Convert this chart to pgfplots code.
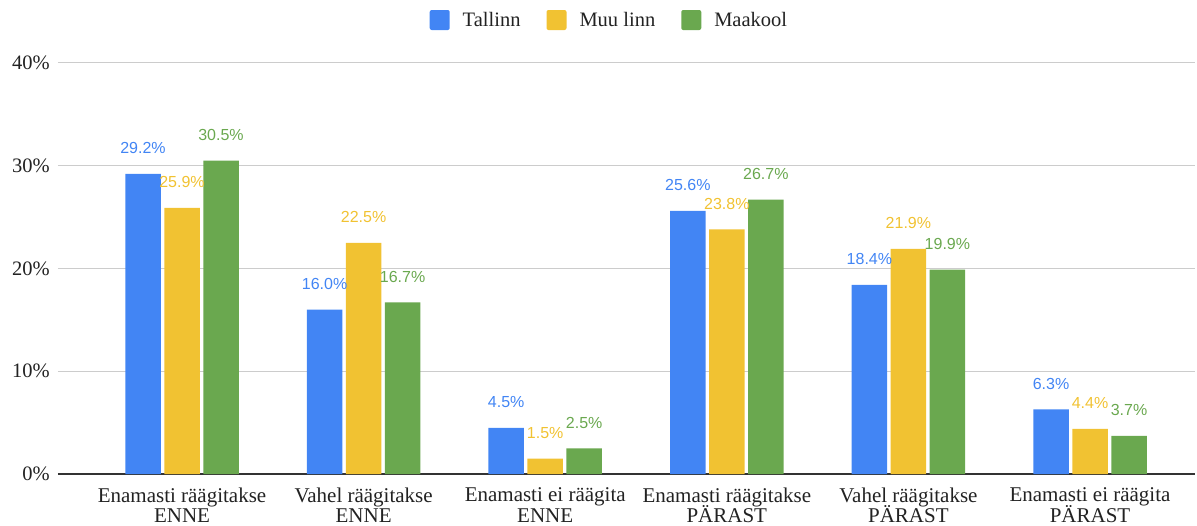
\documentclass[border=0pt]{standalone}
\usepackage{fontspec}
\setmainfont{Liberation Serif}
\newfontfamily\lab{Liberation Sans}
\usepackage{pgfplots}
\pgfplotsset{compat=1.18}
\pgfkeys{/pgf/number format/assume math mode=true}
\definecolor{tblue}{HTML}{4285F4}
\definecolor{tyellow}{HTML}{F1C232}
\definecolor{tgreen}{HTML}{6AA84F}
\definecolor{textgray}{HTML}{222222}
\definecolor{gridgray}{HTML}{CCCCCC}
\definecolor{basegray}{HTML}{333333}
\newcommand\xlabfont{\fontsize{21}{20.5}\selectfont\lineskiplimit=-30pt\relax\lineskip=0pt\relax}
\begin{document}
\begin{tikzpicture}
\path[use as bounding box] (-58pt,-51pt) rectangle (1139pt,474pt);
\begin{axis}[
  scale only axis, width=1137pt, height=411pt,
  xmin=-0.683, xmax=5.578, ymin=0, ymax=40,
  ybar=3.5pt, bar width=35.5pt,
  axis x line*=bottom, axis y line*=left,
  x axis line style={draw=basegray, line width=1.2pt},
  y axis line style={draw=none},
  major tick length=0pt,
  ymajorgrids, grid style={draw=gridgray, line width=1pt},
  xtick={0,...,5},
  xticklabels={{Enamasti räägitakse\\ENNE},{Vahel räägitakse\\ENNE},{Enamasti ei räägita\\ENNE},{Enamasti räägitakse\\PÄRAST},{Vahel räägitakse\\PÄRAST},{Enamasti ei räägita\\PÄRAST}},
  xticklabel style={align=center, font=\xlabfont, text=textgray, anchor=north, inner sep=0pt, yshift=-13.5pt},
  ytick={0,10,20,30,40},
  yticklabel={\pgfmathprintnumber{\tick}\%},
  yticklabel style={font=\fontsize{20.5}{20}\selectfont, text=textgray, anchor=east, inner sep=0pt, xshift=-8pt},
  nodes near coords={\pgfmathprintnumber[fixed,fixed zerofill,precision=1]{\pgfplotspointmeta}\%},
  every node near coord/.append style={font=\lab\fontsize{16}{16}\selectfont, anchor=base, yshift=20pt, inner sep=0pt},
  legend image code/.code={\fill[#1, rounded corners=2pt] (0pt,-10pt) rectangle (20pt,10pt);},
  legend style={at={(0.4850,1.1046)}, anchor=center, draw=none, fill=none, legend columns=3,
    font=\fontsize{20.5}{20}\selectfont, text=textgray,
    /tikz/every odd column/.append style={column sep=11pt},
    /tikz/every even column/.append style={column sep=24pt}},
  clip=false,
]
\addplot[fill=tblue, draw=none, every node near coord/.append style={text=tblue}] coordinates {(0,29.2) (1,16.0) (2,4.5) (3,25.6) (4,18.4) (5,6.3)};
\addplot[fill=tyellow, draw=none, every node near coord/.append style={text=tyellow}] coordinates {(0,25.9) (1,22.5) (2,1.5) (3,23.8) (4,21.9) (5,4.4)};
\addplot[fill=tgreen, draw=none, every node near coord/.append style={text=tgreen}] coordinates {(0,30.5) (1,16.7) (2,2.5) (3,26.7) (4,19.9) (5,3.7)};
\legend{Tallinn, Muu linn, Maakool}
\end{axis}
\end{tikzpicture}
\end{document}
